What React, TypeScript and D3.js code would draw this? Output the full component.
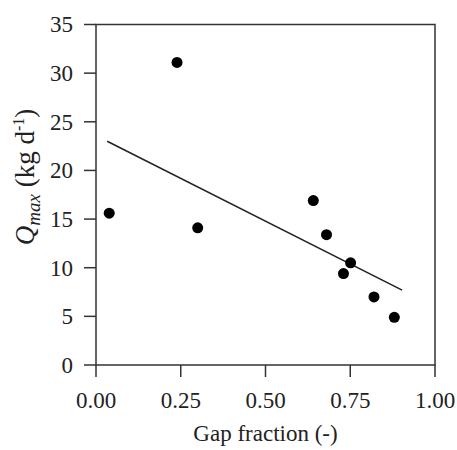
import React from "react";
import * as d3 from "d3";

const gapFraction = [0.039, 0.239, 0.3, 0.641, 0.68, 0.751, 0.73, 0.82, 0.88];
const qMax = [15.6, 31.1, 14.1, 16.9, 13.4, 10.5, 9.4, 7.0, 4.9];
const fitX = [0.033, 0.903];
const fitY = [23.0, 7.7];
const xTicks = [0, 0.25, 0.5, 0.75, 1.0];
const yTicks = [0, 5, 10, 15, 20, 25, 30, 35];

const W = 457;
const H = 450;
const M = { left: 96, right: 435, top: 24.5, bottom: 365 };
const axisColor = "#333";
const textColor = "#222";
const font = "'Liberation Serif', 'Times New Roman', serif";

export default function App() {
  const x = d3.scaleLinear().domain([0, 1]).range([M.left, M.right]);
  const y = d3.scaleLinear().domain([0, 35]).range([M.bottom, M.top]);
  const line = d3
    .line<number>()
    .x((d) => x(d))
    .y((_, i) => y(fitY[i]));
  return (
    <svg
      width={W}
      height={H}
      style={{ position: "absolute", left: 0, top: 0, background: "#fff" }}
      fontFamily={font}
    >
      <rect
        x={M.left}
        y={M.top}
        width={M.right - M.left}
        height={M.bottom - M.top}
        fill="none"
        stroke={axisColor}
        strokeWidth={1.5}
      />
      {yTicks.map((t) => (
        <g key={"y" + t}>
          <line
            x1={M.left - 12}
            x2={M.left}
            y1={y(t)}
            y2={y(t)}
            stroke={axisColor}
            strokeWidth={1.5}
          />
          <text
            x={M.left - 23}
            y={y(t)}
            dy="0.34em"
            textAnchor="end"
            fontSize={23}
            fill={textColor}
          >
            {t}
          </text>
        </g>
      ))}
      {xTicks.map((t) => (
        <g key={"x" + t}>
          <line
            x1={x(t)}
            x2={x(t)}
            y1={M.bottom}
            y2={M.bottom + 12}
            stroke={axisColor}
            strokeWidth={1.5}
          />
          <text
            x={x(t)}
            y={408}
            textAnchor="middle"
            fontSize={23}
            fill={textColor}
          >
            {t.toFixed(2)}
          </text>
        </g>
      ))}
      <text
        x={(M.left + M.right) / 2}
        y={441}
        textAnchor="middle"
        fontSize={23}
        fill={textColor}
      >
        Gap fraction (-)
      </text>
      <text
        transform={`translate(34, 177) rotate(-90)`}
        textAnchor="middle"
        fontSize={27}
        fill={textColor}
      >
        <tspan fontStyle="italic">Q</tspan>
        <tspan fontStyle="italic" fontSize={19} dy={6}>
          max
        </tspan>
        <tspan dy={-6}> (kg d</tspan>
        <tspan fontSize={16} dy={-10}>
          -1
        </tspan>
        <tspan dy={10}>)</tspan>
      </text>
      <path
        d={line(fitX) || ""}
        fill="none"
        stroke="#222"
        strokeWidth={1.5}
      />
      {gapFraction.map((g, i) => (
        <circle key={i} cx={x(g)} cy={y(qMax[i])} r={5.5} fill="#000" />
      ))}
    </svg>
  );
}
